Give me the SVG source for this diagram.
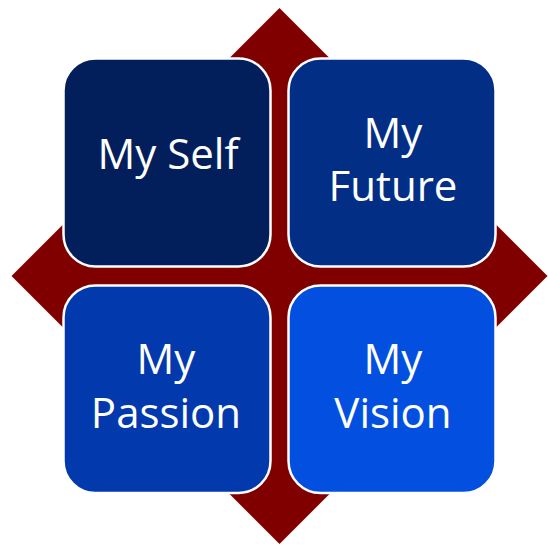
<svg xmlns="http://www.w3.org/2000/svg" width="548" height="547" viewBox="0 0 548 547">
  <style>
    .box { stroke: #FFFFFF; stroke-width: 2.5; }
    .lbl { font-family: "Open Sans", "Noto Sans", "DejaVu Sans", sans-serif; fill: #FFFFFF; text-anchor: middle; font-size: 42px; }
  </style>
  <rect width="548" height="547" fill="#FFFFFF"/>
  <g id="connectors">
    <polygon id="diamond" points="279.5,8 547.5,276 279.5,544 11.5,276" fill="#800000"/>
  </g>
  <g id="node-self">
    <rect class="box" x="63.5" y="58.5" width="207" height="208" rx="32" ry="32" fill="#021F5B"/>
    <text class="lbl" x="168" y="169" font-size="37">My Self</text>
  </g>
  <g id="node-future">
    <rect class="box" x="288.5" y="58.5" width="207" height="208" rx="32" ry="32" fill="#022E86"/>
    <text class="lbl" x="393" y="148">My</text>
    <text class="lbl" x="393" y="201">Future</text>
  </g>
  <g id="node-passion">
    <rect class="box" x="63.5" y="285.5" width="207" height="207.5" rx="32" ry="32" fill="#0239AD"/>
    <text class="lbl" x="166" y="374">My</text>
    <text class="lbl" x="166" y="428">Passion</text>
  </g>
  <g id="node-vision">
    <rect class="box" x="288.5" y="285.5" width="207" height="207.5" rx="32" ry="32" fill="#0350E0"/>
    <text class="lbl" x="393" y="374">My</text>
    <text class="lbl" x="393" y="428">Vision</text>
  </g>
</svg>
